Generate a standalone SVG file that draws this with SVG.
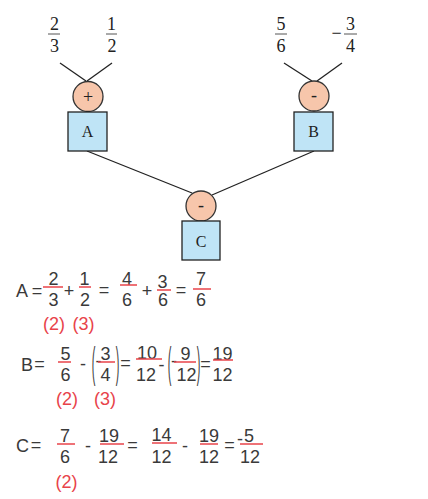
<svg xmlns="http://www.w3.org/2000/svg" width="428" height="499" viewBox="0 0 428 499">
<style>
.top{font-family:"Liberation Serif","Times New Roman",serif;font-size:18px;fill:#222;text-anchor:middle}
.lbl{font-family:"Liberation Serif","Times New Roman",serif;font-size:16px;fill:#222;text-anchor:middle}
.op{fill:#f7c6ab;stroke:#333;stroke-width:1.3}
.box{fill:#bfe4f6;stroke:#222;stroke-width:1.3}
.con{stroke:#222;stroke-width:1.3;fill:none}
.fb{stroke:#555;stroke-width:1}
.m{font-family:"Liberation Sans",Arial,sans-serif;font-size:18px;fill:#3a3a3a;text-anchor:middle}
.ms{font-family:"Liberation Sans",Arial,sans-serif;font-size:18px;fill:#3a3a3a}
.r{font-family:"Liberation Sans",Arial,sans-serif;font-size:18px;fill:#e8434a;text-anchor:middle}
.rb{stroke:#e8434a;stroke-width:1.5}
</style>

<g id="inputs">
<text class="top" x="54.5" y="30">2</text><line class="fb" x1="48" y1="34" x2="60" y2="34"/><text class="top" x="54.5" y="52">3</text>
<text class="top" x="111.5" y="30">1</text><line class="fb" x1="106" y1="34" x2="117" y2="34"/><text class="top" x="112" y="52">2</text>
<text class="top" x="281" y="30">5</text><line class="fb" x1="275" y1="34" x2="287" y2="34"/><text class="top" x="281" y="52">6</text>
<text class="top" x="336.5" y="39">−</text>
<text class="top" x="350.5" y="30">3</text><line class="fb" x1="344" y1="34" x2="357" y2="34"/><text class="top" x="350.5" y="52">4</text>
</g>

<g id="connectors">
<line class="con" x1="60" y1="63" x2="86" y2="81"/>
<line class="con" x1="112" y1="63" x2="87" y2="81"/>
<line class="con" x1="284" y1="63" x2="312" y2="81"/>
<line class="con" x1="342" y1="63" x2="317" y2="81"/>
<line class="con" x1="87" y1="151" x2="192" y2="193"/>
<line class="con" x1="314" y1="151" x2="212" y2="195"/>
</g>

<g id="opA"><circle class="op" cx="88" cy="96.5" r="15"/><text class="top" x="88" y="102.5">+</text></g>
<g id="nodeA"><rect class="box" x="68" y="112" width="39" height="39"/><text class="lbl" x="87.5" y="137">A</text></g>
<g id="opB"><circle class="op" cx="314" cy="96" r="15"/><text class="top" x="314" y="101">-</text></g>
<g id="nodeB"><rect class="box" x="294" y="112" width="39" height="39"/><text class="lbl" x="313.5" y="137">B</text></g>
<g id="opC"><circle class="op" cx="201" cy="206" r="15"/><text class="top" x="201" y="211">-</text></g>
<g id="nodeC"><rect class="box" x="182" y="221" width="38" height="39"/><text class="lbl" x="201" y="247">C</text></g>

<g id="eqA">
<text class="ms" x="16" y="297">A</text><text class="m" x="37" y="297">=</text>
<text class="m" x="53.5" y="285">2</text><line class="rb" x1="43" y1="287" x2="63" y2="287"/><text class="m" x="53.5" y="306">3</text>
<text class="m" x="69" y="297">+</text>
<text class="m" x="84.5" y="285">1</text><line class="rb" x1="79" y1="287" x2="91" y2="287"/><text class="m" x="85" y="306">2</text>
<text class="m" x="104" y="296">=</text>
<text class="m" x="127" y="285">4</text><line class="rb" x1="120" y1="285" x2="137" y2="285"/><text class="m" x="127" y="306">6</text>
<text class="m" x="147" y="297">+</text>
<text class="m" x="162.5" y="288">3</text><line class="rb" x1="157" y1="290" x2="171" y2="290"/><text class="m" x="163" y="306">6</text>
<text class="m" x="181" y="296">=</text>
<text class="m" x="201" y="285">7</text><line class="rb" x1="193" y1="289" x2="211" y2="289"/><text class="m" x="201" y="306">6</text>
<text class="r" x="54" y="330">(2)</text><text class="r" x="83.5" y="330">(3)</text>
</g>

<g id="eqB">
<text class="ms" x="21" y="371">B</text><text class="m" x="39.5" y="370">=</text>
<text class="m" x="65.5" y="360">5</text><line class="rb" x1="58" y1="362" x2="71" y2="362"/><text class="m" x="65.5" y="381">6</text>
<text class="m" x="83" y="370">-</text>
<text class="m" transform="translate(93.5,377) scale(0.6,2.4)" x="0" y="0">(</text>
<text class="m" x="98.5" y="367">-</text>
<text class="m" x="105.5" y="360">3</text><line class="rb" x1="98" y1="362" x2="115" y2="362"/><text class="m" x="105.5" y="381">4</text>
<text class="m" transform="translate(117.5,377) scale(0.6,2.4)" x="0" y="0">)</text>
<text class="m" x="125.5" y="369">=</text>
<text class="m" x="147" y="359">10</text><line class="rb" x1="136" y1="359" x2="162" y2="359"/><text class="m" x="146" y="381">12</text>
<text class="m" x="161.5" y="371">-</text>
<text class="m" transform="translate(169.5,377) scale(0.6,2.4)" x="0" y="0">(</text>
<text class="m" x="174" y="367">-</text>
<text class="m" x="185.5" y="360">9</text><line class="rb" x1="174" y1="362" x2="196" y2="362"/><text class="m" x="186.5" y="381">12</text>
<text class="m" transform="translate(198.5,377) scale(0.6,2.4)" x="0" y="0">)</text>
<text class="m" x="205.5" y="370">=</text>
<text class="m" x="222.5" y="360">19</text><line class="rb" x1="213" y1="360" x2="233" y2="360"/><text class="m" x="222.5" y="381">12</text>
<text class="r" x="67" y="405">(2)</text><text class="r" x="105" y="405">(3)</text>
</g>

<g id="eqC">
<text class="ms" x="16" y="452">C</text><text class="m" x="36" y="451">=</text>
<text class="m" x="65" y="442">7</text><line class="rb" x1="57" y1="444" x2="75" y2="444"/><text class="m" x="65" y="463">6</text>
<text class="m" x="88" y="452">-</text>
<text class="m" x="109" y="442">19</text><line class="rb" x1="100" y1="444" x2="124" y2="444"/><text class="m" x="108" y="463">12</text>
<text class="m" x="132.5" y="451">=</text>
<text class="m" x="161.5" y="441">14</text><line class="rb" x1="152" y1="443" x2="177" y2="443"/><text class="m" x="161.5" y="463">12</text>
<text class="m" x="185" y="452">-</text>
<text class="m" x="209" y="442">19</text><line class="rb" x1="200" y1="444" x2="218" y2="444"/><text class="m" x="209" y="463">12</text>
<text class="m" x="229.5" y="451">=</text>
<text class="m" x="240" y="444.5">-</text>
<text class="m" x="249" y="442">5</text><line class="rb" x1="240" y1="444" x2="263" y2="444"/><text class="m" x="250" y="463">12</text>
<text class="r" x="66.5" y="488">(2)</text>
</g>
</svg>
